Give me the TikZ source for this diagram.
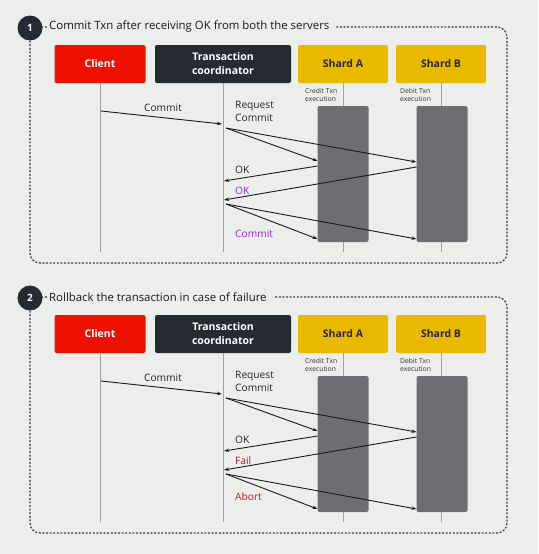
\documentclass[tikz,border=0pt]{standalone}
\usepackage{fontspec}
\setmainfont{Open Sans}
\usetikzlibrary{arrows.meta}
\definecolor{bg}{HTML}{ECEEEC}
\definecolor{clientred}{HTML}{EE1100}
\definecolor{coorddark}{HTML}{262A33}
\definecolor{shardyellow}{HTML}{EBB800}
\definecolor{execgray}{HTML}{6D6E71}
\definecolor{okpurple}{HTML}{8E2BD6}
\definecolor{failred}{HTML}{CC1414}
\definecolor{lifegray}{HTML}{A0A2A2}
\definecolor{borderdark}{HTML}{3A3D42}
\tikzset{
 actor/.style={rounded corners=2pt, minimum height=38pt, inner sep=0pt, align=center, font=\bfseries\fontsize{10.5}{14}\selectfont},
 lifeline/.style={draw=lifegray, line width=0.6pt},
 msg/.style={-{Stealth[length=5pt,width=3.5pt]}, line width=0.9pt, black!90},
 lbl/.style={font=\fontsize{10.2}{13}\selectfont, inner sep=0pt, anchor=west, align=left, text=black!85},
 panelborder/.style={draw=borderdark, line width=1.2pt, dash pattern=on 2pt off 1.6pt, rounded corners=10pt},
 numdot/.style={circle, fill=coorddark, text=white, minimum size=25pt, inner sep=0pt, font=\bfseries\fontsize{10}{12}\selectfont},
 ptitle/.style={fill=bg, anchor=west, inner ysep=2pt, inner xsep=0pt, font=\fontsize{11.4}{13}\selectfont, text=black!90},
 execbar/.style={fill=execgray, rounded corners=2pt, draw=none, minimum width=51pt, minimum height=136pt, inner sep=0pt},
 tinytxt/.style={font=\fontsize{6.8}{8}\selectfont, align=left, inner sep=0pt, anchor=north west, text=black!80}
}
\newcommand\drawpanel[8]{%
\begin{scope}[shift={(0,#2)}]
 \draw[panelborder] (30,27) rectangle (507,263);
 \node[ptitle] (#1title) at (47,27) {\kern2pt#4\kern7pt};
 \node[numdot] (#1num) at (30,28) {#3};
 \node[actor, fill=clientred, text=white, minimum width=91pt] (#1client) at (100,64) {Client};
 \node[actor, fill=coorddark, text=white, minimum width=136pt] (#1coord) at (223,64) {Transaction\\coordinator};
 \node[actor, fill=shardyellow, text=coorddark, minimum width=90pt] (#1shardA) at (343,64) {Shard A};
 \node[actor, fill=shardyellow, text=coorddark, minimum width=90pt] (#1shardB) at (441,64) {Shard B};
 \coordinate (#1clEnd) at (100,252);
 \coordinate (#1coEnd) at (223,252);
 \coordinate (#1aEnd) at (343,252);
 \coordinate (#1bEnd) at (441,252);
 \draw[lifeline] (#1client.south) -- (#1clEnd);
 \draw[lifeline] (#1coord.south) -- (#1coEnd);
 \draw[lifeline] (#1shardA.south) -- (#1aEnd);
 \draw[lifeline] (#1shardB.south) -- (#1bEnd);
 \node[execbar] (#1execA) at (343,174) {};
 \node[execbar] (#1execB) at (442,174) {};
 \node[tinytxt] (#1credit) at (305,88) {Credit Txn\\execution};
 \node[tinytxt] (#1debit) at (400,88) {Debit Txn\\execution};
 \coordinate (#1p1) at (101,111);
 \coordinate (#1p2) at (222,124);
 \coordinate (#1p3) at (226,128);
 \coordinate (#1p4) at (317.5,161);
 \coordinate (#1p5) at (416.5,162);
 \coordinate (#1p6) at (317.5,166);
 \coordinate (#1p7) at (224,181);
 \coordinate (#1p8) at (416.5,167);
 \coordinate (#1p9) at (224,200);
 \coordinate (#1p10) at (226,204);
 \coordinate (#1p11) at (317.5,239);
 \coordinate (#1p12) at (416.5,239);
 \draw[msg] (#1p1) -- (#1p2);
 \draw[msg] (#1p3) -- (#1p4);
 \draw[msg] (#1p3) -- (#1p5);
 \draw[msg] (#1p6) -- (#1p7);
 \draw[msg] (#1p8) -- (#1p9);
 \draw[msg] (#1p10) -- (#1p11);
 \draw[msg] (#1p10) -- (#1p12);
 \node[lbl, anchor=center] (#1lcommit) at (163,108) {Commit};
 \node[lbl] (#1lreq) at (235,111.5) {Request\\Commit};
 \node[lbl] (#1lok) at (235,170) {OK};
 \node[lbl, text=#5] (#1lsecond) at (235,191) {#6};
 \node[lbl, text=#5] (#1lthird) at (235,#8) {#7};
\end{scope}}
\begin{document}
\begin{tikzpicture}[x=1pt,y=-1pt]
\fill[bg] (0,0) rectangle (538,554);
\useasboundingbox (0,0) rectangle (538,554);
\drawpanel{a}{0}{1}{Commit Txn after receiving OK from both the servers}{okpurple}{OK}{Commit}{234}
\drawpanel{b}{270}{2}{Rollback the transaction in case of failure}{failred}{Fail}{Abort}{227}
\end{tikzpicture}
\end{document}
